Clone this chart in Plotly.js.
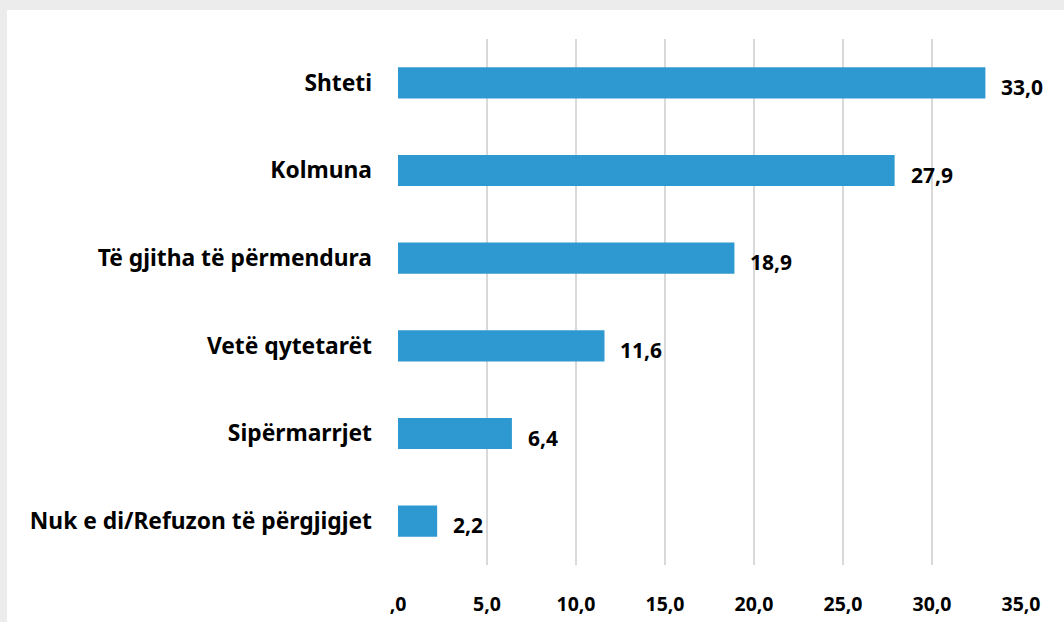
<!DOCTYPE html>
<html>
<head>
<meta charset="utf-8">
<script src="https://cdn.plot.ly/plotly-3.0.1.min.js"></script>
<style>
  html, body { margin: 0; padding: 0; background: #ececec; width: 1064px; height: 622px; overflow: hidden; }
  #chart { position: absolute; left: 7px; top: 10px; width: 1057px; height: 612px; background: #fff; }
</style>
</head>
<body>
<div id="chart"></div>
<script>
// categories bottom to top
let categories = ['Nuk e di/Refuzon të përgjigjet', 'Sipërmarrjet', 'Vetë qytetarët',
                  'Të gjitha të përmendura', 'Kolmuna', 'Shteti'];
let values = [2.2, 6.4, 11.6, 18.9, 27.9, 33.0];
let labels = ['2,2', '6,4', '11,6', '18,9', '27,9', '33,0'];

let tick_vals = [0, 5, 10, 15, 20, 25, 30, 35];
let tick_text = [',0', '5,0', '10,0', '15,0', '20,0', '25,0', '30,0', '35,0'];

let font_family = '"Noto Sans", "Open Sans", sans-serif';

let trace = {
    x: values,
    y: categories,
    type: 'bar',
    orientation: 'h',
    width: 0.355,
    marker: {color: '#2e99d1', line: {width: 0}},
    hoverinfo: 'x+y'
};

// value labels next to the bars
let value_labels = values.map((v, i) => ({
    x: v,
    y: categories[i],
    text: labels[i],
    showarrow: false,
    xanchor: 'left',
    xshift: 14,
    yshift: -4,
    font: {family: font_family, size: 21, color: '#000', weight: 'bold'}
}));

let layout = {
    width: 1057,
    height: 612,
    margin: {l: 391, r: 43, t: 29, b: 57},
    paper_bgcolor: '#ffffff',
    plot_bgcolor: '#ffffff',
    showlegend: false,
    font: {family: font_family, size: 18, color: '#000'},
    annotations: value_labels,
    xaxis: {
        range: [0, 35],
        tickvals: tick_vals,
        ticktext: tick_text,
        tickfont: {family: font_family, size: 19.5, color: '#000', weight: 'bold'},
        showgrid: true,
        gridcolor: '#d9d9d9',
        gridwidth: 1.5,
        zeroline: false,
        showline: false,
        ticks: '',
        ticklabelstandoff: 25
    },
    yaxis: {
        range: [-0.5, 5.5],
        tickfont: {family: font_family, size: 22.8, color: '#000', weight: 'bold'},
        showgrid: false,
        zeroline: false,
        showline: false,
        ticks: '',
        ticklabelstandoff: 25
    }
};

let config = {displayModeBar: false, responsive: false};

Plotly.newPlot('chart', [trace], layout, config);
</script>
</body>
</html>
